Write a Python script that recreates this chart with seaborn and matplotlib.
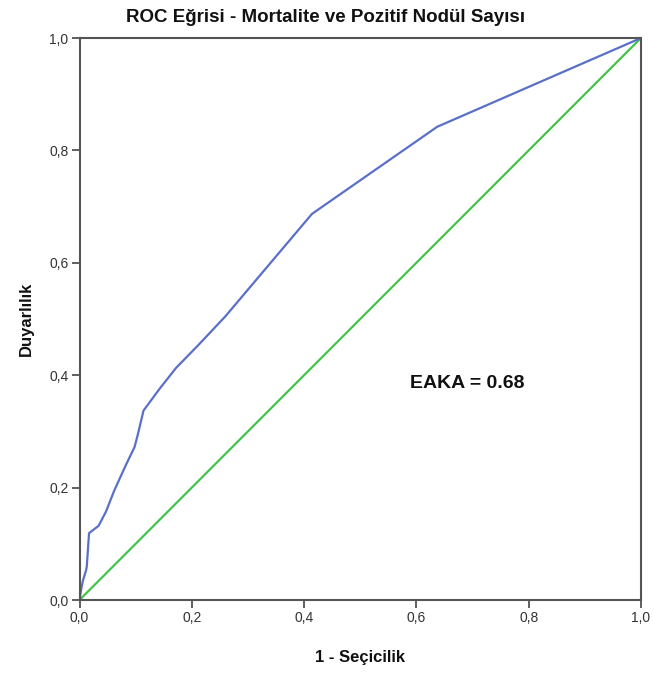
import numpy as np
import pandas as pd
import matplotlib
matplotlib.use("Agg")
import matplotlib.pyplot as plt
import seaborn as sns

# ROC curve points (1 - specificity, sensitivity)
fpr = [0.0, 0.003, 0.006, 0.012, 0.013, 0.017, 0.021, 0.034, 0.047, 0.062, 0.083,
       0.098, 0.104, 0.114, 0.142, 0.172, 0.213, 0.260, 0.414, 0.637, 1.0]
tpr = [0.0, 0.019, 0.034, 0.054, 0.06, 0.119, 0.122, 0.132, 0.157, 0.195, 0.241,
       0.272, 0.295, 0.337, 0.375, 0.413, 0.455, 0.505, 0.687, 0.842, 1.0]
ref_x = [0.0, 1.0]
ref_y = [0.0, 1.0]

title = "ROC Eğrisi - Mortalite ve Pozitif Nodül Sayısı"
xlabel = "1 - Seçicilik"
ylabel = "Duyarlılık"
auc_text = "EAKA = 0.68"
ticks = [0.0, 0.2, 0.4, 0.6, 0.8, 1.0]
tick_labels = ["0,0", "0,2", "0,4", "0,6", "0,8", "1,0"]

sns.set_theme(style="white")
plt.rcParams['font.family'] = ['Liberation Sans', 'DejaVu Sans']

fig = plt.figure(figsize=(6.54, 6.74), dpi=100)
ax = fig.add_axes([79.5/654, 1 - 600/674, (641 - 79.5)/654, 562/674])

roc = pd.DataFrame({"fpr": fpr, "tpr": tpr})
ref = pd.DataFrame({"x": ref_x, "y": ref_y})
sns.lineplot(data=ref, x="x", y="y", ax=ax, color="#45c24a", lw=1.6,
             sort=False, estimator=None)
sns.lineplot(data=roc, x="fpr", y="tpr", ax=ax, color="#5a70c8", lw=1.6,
             sort=False, estimator=None)

ax.set_xlim(0, 1)
ax.set_ylim(0, 1)
ax.set_xticks(ticks)
ax.set_yticks(ticks)
ax.set_xticklabels(tick_labels, fontsize=10, color="#333333")
ax.set_yticklabels(tick_labels, fontsize=10, color="#333333")
ax.tick_params(axis="both", direction="out", length=6, width=1.2, color="#444444",
               bottom=True, left=True, top=False, right=False, pad=2)
for s in ax.spines.values():
    s.set_color("#555555")
    s.set_linewidth(1.5)

ax.set_xlabel(xlabel, fontsize=12, fontweight="bold", color="#111111", labelpad=18)
ax.set_ylabel(ylabel, fontsize=12, fontweight="bold", color="#111111", labelpad=11)
ax.text(0.589, 0.386, auc_text, fontsize=14, fontweight="bold", color="#111111",
        ha="left", va="center", transform=ax.transData)

fig.text(326/654, 1 - 18/674, title, fontsize=13.5, fontweight="bold",
         color="#111111", ha="center", va="center")

fig.savefig("out.png", dpi=100, facecolor="white")
